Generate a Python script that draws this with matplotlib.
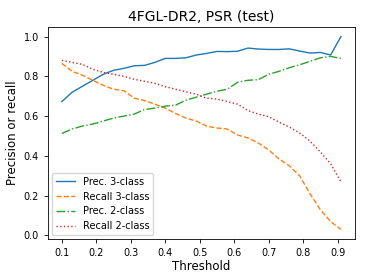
import numpy as np
import matplotlib
matplotlib.use('Agg')
import matplotlib.pyplot as plt

# thresholds 0.10 ... 0.91
threshold = [0.10, 0.13, 0.16, 0.19, 0.22, 0.25, 0.28, 0.31, 0.34, 0.37,
             0.40, 0.43, 0.46, 0.49, 0.52, 0.55, 0.58, 0.61, 0.64, 0.67,
             0.70, 0.73, 0.76, 0.79, 0.82, 0.85, 0.88, 0.91]

prec_3class = [0.673, 0.720, 0.750, 0.780, 0.810, 0.830, 0.840, 0.853, 0.855, 0.870,
               0.890, 0.890, 0.893, 0.907, 0.915, 0.925, 0.924, 0.926, 0.942, 0.937,
               0.935, 0.935, 0.938, 0.927, 0.917, 0.920, 0.907, 1.000]
recall_3class = [0.865, 0.825, 0.805, 0.780, 0.755, 0.735, 0.728, 0.690, 0.678, 0.660,
                 0.640, 0.613, 0.590, 0.575, 0.550, 0.540, 0.535, 0.505, 0.490, 0.465,
                 0.430, 0.385, 0.350, 0.300, 0.210, 0.130, 0.070, 0.030]
prec_2class = [0.513, 0.535, 0.550, 0.560, 0.575, 0.590, 0.600, 0.610, 0.633, 0.640,
               0.650, 0.655, 0.680, 0.695, 0.710, 0.725, 0.735, 0.770, 0.780, 0.783,
               0.810, 0.825, 0.843, 0.858, 0.875, 0.893, 0.900, 0.890]
recall_2class = [0.880, 0.870, 0.860, 0.835, 0.820, 0.810, 0.800, 0.785, 0.775, 0.765,
                 0.748, 0.735, 0.722, 0.710, 0.690, 0.686, 0.673, 0.660, 0.628, 0.610,
                 0.597, 0.570, 0.545, 0.515, 0.475, 0.420, 0.360, 0.270]

fig = plt.figure(figsize=(3.74, 2.8), dpi=100)
ax = fig.add_axes([0.128, 0.146, 0.821, 0.758])

ax.plot(threshold, prec_3class, '-', color='C0', lw=1.0, label='Prec. 3-class')
ax.plot(threshold, recall_3class, '--', color='C1', lw=1.0, label='Recall 3-class')
ax.plot(threshold, prec_2class, '-.', color='C2', lw=1.0, label='Prec. 2-class')
ax.plot(threshold, recall_2class, ':', color='C3', lw=1.0, label='Recall 2-class')

ax.set_xticks([0.1, 0.2, 0.3, 0.4, 0.5, 0.6, 0.7, 0.8, 0.9])
ax.set_yticks([0.0, 0.2, 0.4, 0.6, 0.8, 1.0])
ax.tick_params(labelsize=7, length=3, width=0.6)
for s in ax.spines.values():
    s.set_linewidth(0.6)

ax.set_xlabel('Threshold', fontsize=8.5, labelpad=1)
ax.set_ylabel('Precision or recall', fontsize=8.5, labelpad=3)
ax.set_title('4FGL-DR2, PSR (test)', fontsize=10, pad=4)
ax.legend(loc='lower left', fontsize=7, handlelength=2.0, borderaxespad=0.4,
          labelspacing=0.5)

plt.savefig('out.png', dpi=100)
